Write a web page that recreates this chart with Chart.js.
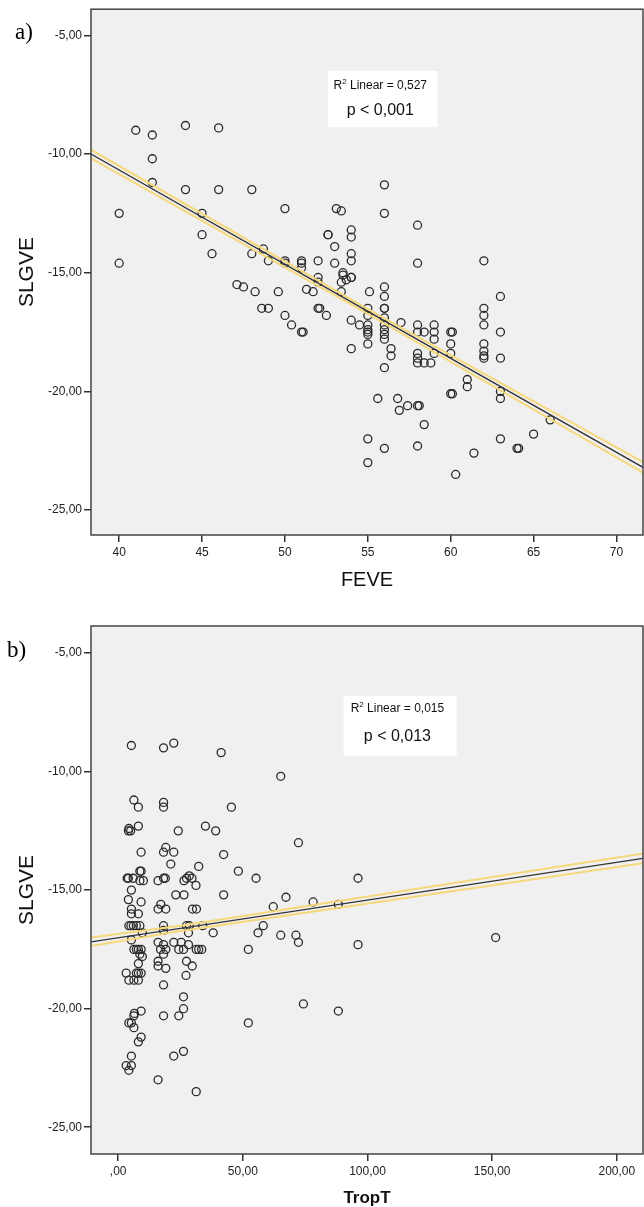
<!DOCTYPE html>
<html>
<head>
<meta charset="utf-8">
<script src="https://cdn.jsdelivr.net/npm/chart.js@4.4.1/dist/chart.umd.min.js"></script>
<style>
  html, body { margin: 0; padding: 0; background: #fff; }
  body { width: 644px; height: 1207px; position: relative; overflow: hidden; }
  canvas { position: absolute; left: 0; }
  #chartA { top: 0; }
  #chartB { top: 600px; }
</style>
</head>
<body>
<canvas id="chartA" width="644" height="600"></canvas>
<canvas id="chartB" width="644" height="607"></canvas>
<script>
// ---- data ----
// a) FEVE vs SLGVE
const feveX = [40, 40, 41, 42, 42, 42, 44, 44, 45, 45, 45.6, 46, 46, 47.1, 47.5, 48, 48, 48.2, 48.6, 48.7,
  49, 49, 49.6, 50, 50, 50, 50, 50.4, 51, 51, 51, 51, 51.1, 51.3, 51.7, 52, 52, 52, 52, 52.1,
  52.5, 52.6, 52.6, 53, 53, 53.1, 53.4, 53.5, 53.4, 53.7, 53.4, 54, 54, 54, 54, 54, 54, 54,
  54.5, 55, 55, 55, 55, 55, 55, 55, 55, 55, 55.1, 55.6, 56, 56, 56, 56, 56, 56, 56, 56, 56,
  56, 56, 56, 56, 56.4, 56.4, 56.8, 56.9, 57, 57.4, 58, 58, 58, 58, 58, 58, 58, 58, 58.1, 58,
  58.4, 58.4, 58.4, 58.8, 59, 59, 59, 59, 60, 60.1, 60, 60, 60, 60.1, 60.3, 61, 61, 61.4, 62,
  62, 62, 62, 62, 62, 62, 62, 63, 63, 63, 63, 63, 63, 64, 64.1, 65, 66, 53.5, 54];
const feveY = [-12.5, -14.6, -9.0, -9.2, -10.2, -11.2, -8.8, -11.5, -12.5, -13.4, -14.2, -8.9, -11.5, -15.5, -15.6, -11.5, -14.2, -15.8, -16.5, -14.0,
  -14.5, -16.5, -15.8, -12.3, -14.5, -14.6, -16.8, -17.2, -14.5, -14.6, -14.8, -17.5, -17.5, -15.7, -15.8, -14.5, -15.2, -15.4, -16.5, -16.5,
  -16.8, -13.4, -13.4, -13.9, -14.6, -12.3, -12.4, -15.0, -15.4, -15.3, -15.8, -13.2, -13.5, -14.2, -14.5, -15.2, -17.0, -18.2,
  -17.2, -16.5, -16.8, -17.2, -17.4, -17.5, -17.6, -18.0, -22.0, -23.0, -15.8, -20.3, -11.3, -12.5, -15.6, -16.0, -16.5, -16.5, -16.9, -17.2, -17.4,
  -17.6, -17.8, -19.0, -22.4, -18.2, -18.5, -20.3, -20.8, -17.1, -20.6, -13.0, -14.6, -17.2, -17.5, -18.4, -18.6, -18.8, -20.6, -20.6, -22.3,
  -17.5, -18.8, -21.4, -18.8, -17.2, -17.5, -17.8, -18.4, -17.5, -17.5, -18.0, -18.4, -20.1, -20.1, -23.5, -19.5, -19.8, -22.6, -14.5,
  -16.5, -16.8, -17.2, -18.0, -18.3, -18.5, -18.6, -16.0, -17.5, -18.6, -20.0, -20.3, -22.0, -22.4, -22.4, -21.8, -21.2, -15.1, -15.2];

// b) TropT vs SLGVE
const tropX = [3.2, 3.2, 3.6, 4.1, 4.1, 4.1, 4.3, 4.3, 4.3, 4.3, 4.3, 5.0, 5.1, 5.3, 5.3, 5.3, 5.3, 5.3, 5.3, 5.3,
  5.3, 6.0, 6.1, 6.3, 6.3, 6.3, 6.3, 6.5, 6.3, 7.3, 7.3, 7.3, 8.1, 8.1, 8.1, 8.1, 8.1, 8.1, 8.1, 8.1,
  8.7, 8.7, 8.7, 8.7, 9.2, 9.2, 9.2, 9.2, 9.2, 9.2, 9.2, 9.7, 9.7, 10.1, 16.0, 16.0, 16.0, 16.0, 16.0, 16.0,
  17.1, 17.0, 18.2, 18.2, 18.2, 18.2, 18.2, 18.2, 18.2, 18.2, 18.2, 18.2, 18.2, 18.9, 19.1, 19.1, 19.1, 19.1, 21.1, 22.3,
  22.3, 22.3, 22.3, 23.1, 24.1, 24.3, 24.3, 25.3, 26.2, 26.2, 26.2, 26.2, 26.4, 26.4, 27.2, 27.4, 27.4, 27.4, 28.2, 28.2,
  28.5, 28.5, 29.6, 29.7, 29.8, 31.2, 31.3, 31.3, 31.4, 32.3, 32.3, 33.5, 33.9, 35.0, 38.1, 39.1, 41.3, 42.3, 42.3, 45.4,
  48.2, 52.2, 52.2, 55.3, 56.1, 58.2, 62.2, 65.2, 65.2, 67.3, 71.3, 72.3, 72.3, 74.3, 78.2, 88.3, 88.3, 96.2, 96.2, 151.4];
const tropY = [-18.5, -22.4, -14.5, -12.5, -14.5, -15.4, -12.4, -16.5, -18.8, -20.6, -22.6, -12.5, -16.5, -8.9, -15.0, -15.8, -16.0, -17.1, -20.6, -22.0,
  -22.4, -14.5, -16.5, -11.2, -17.5, -18.8, -20.3, -20.2, -20.8, -16.5, -17.5, -18.5, -11.5, -12.3, -16.0, -17.5, -18.1, -18.5, -18.8, -21.4,
  -14.2, -14.6, -16.5, -17.7, -13.4, -14.2, -15.5, -17.5, -18.5, -20.1, -21.2, -16.8, -17.8, -14.6, -14.6, -15.8, -17.2, -18.0, -18.2, -23.0,
  -15.6, -17.5, -9.0, -11.3, -11.5, -13.4, -14.5, -16.5, -16.7, -17.3, -17.7, -19.0, -20.3, -14.5, -13.2, -15.8, -17.5, -18.3, -13.9, -8.8,
  -13.4, -17.2, -22.0, -15.2, -12.5, -17.5, -20.3, -17.2, -17.5, -19.5, -20.0, -21.8, -14.6, -15.2, -18.6, -14.5, -16.5, -18.0, -16.8, -17.3,
  -14.4, -16.5, -14.5, -18.2, -15.8, -14.8, -17.5, -23.5, -15.8, -14.0, -17.5, -17.5, -16.5, -12.3, -16.8, -12.5, -9.2, -13.5, -15.2, -11.5,
  -14.2, -17.5, -20.6, -14.5, -16.8, -16.5, -15.7, -10.2, -16.9, -15.3, -16.9, -13.0, -17.2, -19.8, -15.5, -15.6, -20.1, -14.5, -17.3, -17.0];

// fit lines and mean confidence bounds (values at the left edge, middle, right edge)
const fitAX = [38.3, 55, 71.6];
const fitAY = [-10.0, -16.63, -23.2];
const ciAUpperY = [-9.82, -16.53, -22.98];
const ciALowerY = [-10.18, -16.73, -23.42];

const fitBX = [-10.9, 25, 210.5];
const fitBY = [-17.18, -16.61, -13.66];
const ciBUpperY = [-17.0, -16.5, -13.45];
const ciBLowerY = [-17.36, -16.72, -13.87];

// ticks
const yTicks = [-5, -10, -15, -20, -25];
const yTickLabels = ['-5,00', '-10,00', '-15,00', '-20,00', '-25,00'];
const feveTicks = [40, 45, 50, 55, 60, 65, 70];
const feveTickLabels = ['40', '45', '50', '55', '60', '65', '70'];
const tropTicks = [0, 50, 100, 150, 200];
const tropTickLabels = [',00', '50,00', '100,00', '150,00', '200,00'];

const sans = "'Liberation Sans', Arial, sans-serif";
const serif = "'Liberation Serif', 'Times New Roman', serif";

function pts(xs, ys) {
  return xs.map((x, i) => ({ x: x, y: ys[i] }));
}

// plot background, frame, panel letter and the R² box
const decor = {
  id: 'decor',
  beforeDatasetsDraw(chart) {
    const a = chart.chartArea, ctx = chart.ctx;
    ctx.save();
    ctx.fillStyle = '#f0f0f0';
    ctx.fillRect(a.left, a.top, a.right - a.left, a.bottom - a.top);
    ctx.restore();
  },
  afterDraw(chart, args, o) {
    const a = chart.chartArea, ctx = chart.ctx;
    const xs = chart.scales.x, ys = chart.scales.y;
    ctx.save();
    ctx.strokeStyle = '#444';
    ctx.lineWidth = 1.5;
    ctx.strokeRect(a.left, a.top, a.right - a.left, a.bottom - a.top);

    // panel letter
    ctx.fillStyle = '#000';
    ctx.font = '23px ' + serif;
    ctx.textAlign = 'left';
    ctx.textBaseline = 'middle';
    ctx.fillText(o.letter, o.letterX, o.letterY);

    // stats box
    const bx0 = xs.getPixelForValue(o.box[0]), bx1 = xs.getPixelForValue(o.box[1]);
    const by0 = ys.getPixelForValue(o.box[2]), by1 = ys.getPixelForValue(o.box[3]);
    ctx.fillStyle = '#fff';
    ctx.fillRect(bx0, by0, bx1 - bx0, by1 - by0);

    const cx = xs.getPixelForValue(o.textX);
    const l1 = ys.getPixelForValue(o.line1Y), l2 = ys.getPixelForValue(o.line2Y);
    ctx.fillStyle = '#111';
    ctx.textBaseline = 'middle';
    ctx.font = '12px ' + sans;
    const wR = ctx.measureText('R').width;
    const rest = ' Linear = ' + o.r2;
    const wRest = ctx.measureText(rest).width;
    ctx.font = '8px ' + sans;
    const w2 = ctx.measureText('2').width;
    let x0 = cx - (wR + w2 + wRest) / 2;
    ctx.font = '12px ' + sans;
    ctx.fillText('R', x0, l1);
    ctx.font = '8px ' + sans;
    ctx.fillText('2', x0 + wR, l1 - 4);
    ctx.font = '12px ' + sans;
    ctx.fillText(rest, x0 + wR + w2, l1);

    ctx.font = '16px ' + sans;
    ctx.textAlign = 'center';
    ctx.fillText(o.pText, cx, l2);
    ctx.restore();
  }
};

function makeChart(id, cfg) {
  const ctx = document.getElementById(id).getContext('2d');
  return new Chart(ctx, {
    type: 'scatter',
    data: {
      datasets: [
        { type: 'line', data: pts(cfg.fitX, cfg.fitY), borderColor: '#333', borderWidth: 1.3, pointRadius: 0, fill: false },
        { type: 'line', data: pts(cfg.fitX, cfg.ciUp), borderColor: '#f6d87c', borderWidth: 2, pointRadius: 0, fill: false },
        { type: 'line', data: pts(cfg.fitX, cfg.ciLo), borderColor: '#f6d87c', borderWidth: 2, pointRadius: 0, fill: false },
        {
          data: pts(cfg.xs, cfg.ys),
          pointStyle: 'circle',
          pointRadius: 4,
          pointBorderWidth: 1.3,
          pointBorderColor: '#2a2a2a',
          pointBackgroundColor: 'rgba(0,0,0,0)'
        }
      ]
    },
    options: {
      responsive: false,
      animation: false,
      events: [],
      layout: { autoPadding: false, padding: { top: cfg.padTop, right: 1, left: 0, bottom: 0 } },
      plugins: {
        legend: { display: false },
        tooltip: { enabled: false },
        decor: cfg.decor
      },
      scales: {
        x: {
          type: 'linear',
          min: cfg.xMin,
          max: cfg.xMax,
          afterBuildTicks: s => { s.ticks = cfg.xTicks.map(v => ({ value: v })); },
          afterFit: s => { s.height = cfg.xAxisH; },
          border: { display: false },
          grid: { drawOnChartArea: false, drawTicks: true, tickLength: 7, color: '#333', lineWidth: 1.5 },
          ticks: {
            autoSkip: false, maxRotation: 0, padding: 3, color: '#222',
            font: { family: sans, size: 12 },
            callback: (v, i) => cfg.xLabels[i]
          },
          title: {
            display: true, text: cfg.xTitle, color: '#111',
            font: cfg.xTitleFont,
            padding: { top: 0, bottom: cfg.xTitlePad }
          }
        },
        y: {
          type: 'linear',
          min: cfg.yMin,
          max: cfg.yMax,
          afterBuildTicks: s => { s.ticks = yTicks.map(v => ({ value: v })); },
          afterFit: s => { s.width = 91; },
          border: { display: false },
          grid: { drawOnChartArea: false, drawTicks: true, tickLength: 7, color: '#333', lineWidth: 1.5 },
          ticks: {
            autoSkip: false, padding: 2, color: '#222',
            font: { family: sans, size: 12 },
            callback: (v, i) => yTickLabels[i]
          },
          title: {
            display: true, text: 'SLGVE', color: '#111',
            font: { family: sans, size: 21, lineHeight: 1.2 },
            padding: { top: 14.4, bottom: 0 }
          }
        }
      }
    },
    plugins: [decor]
  });
}

makeChart('chartA', {
  xs: feveX, ys: feveY,
  fitX: fitAX, fitY: fitAY, ciUp: ciAUpperY, ciLo: ciALowerY,
  xMin: 38.3, xMax: 71.6, yMin: -26.05, yMax: -3.9,
  xTicks: feveTicks, xLabels: feveTickLabels,
  xTitle: 'FEVE', xTitleFont: { family: sans, size: 20, lineHeight: 1.2 }, xTitlePad: 8,
  padTop: 8, xAxisH: 65,
  decor: {
    letter: 'a)', letterX: 15, letterY: 33,
    box: [52.6, 59.2, -6.5, -8.87],
    textX: 55.75, line1Y: -7.14, line2Y: -8.19,
    r2: '0,527', pText: 'p < 0,001'
  }
});

makeChart('chartB', {
  xs: tropX, ys: tropY,
  fitX: fitBX, fitY: fitBY, ciUp: ciBUpperY, ciLo: ciBLowerY,
  xMin: -10.9, xMax: 210.5, yMin: -26.13, yMax: -3.86,
  xTicks: tropTicks, xLabels: tropTickLabels,
  xTitle: 'TropT', xTitleFont: { family: sans, size: 17, weight: 'bold', lineHeight: 1.0 }, xTitlePad: 0,
  padTop: 26, xAxisH: 53,
  decor: {
    letter: 'b)', letterX: 7, letterY: 51,
    box: [90.4, 135.8, -6.81, -9.33],
    textX: 112, line1Y: -7.36, line2Y: -8.53,
    r2: '0,015', pText: 'p < 0,013'
  }
});
</script>
</body>
</html>
